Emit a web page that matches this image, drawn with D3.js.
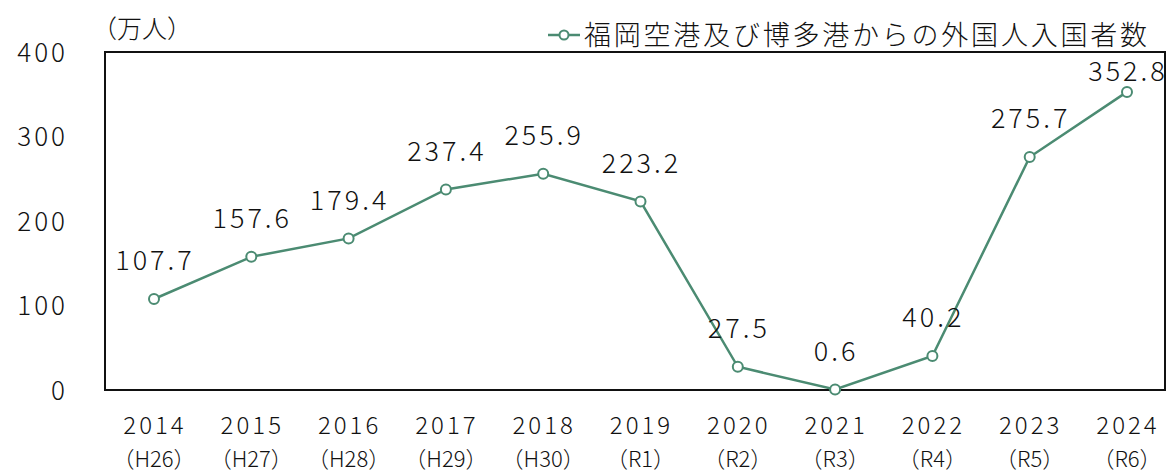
<!DOCTYPE html>
<html>
<head>
<meta charset="utf-8">
<script src="https://cdn.jsdelivr.net/npm/d3@7"></script>
<style>
  body { margin: 0; background: #fff; }
  text { font-family: "Noto Sans CJK JP", "Noto Sans", sans-serif; fill: #111; font-weight: 300; }
</style>
</head>
<body>
<div id="chart-area"></div>
<script>
// data
const years = ["2014", "2015", "2016", "2017", "2018", "2019", "2020", "2021", "2022", "2023", "2024"]
const eras = ["（H26）", "（H27）", "（H28）", "（H29）", "（H30）", "（R1）", "（R2）", "（R3）", "（R4）", "（R5）", "（R6）"]
const visitors = [107.7, 157.6, 179.4, 237.4, 255.9, 223.2, 27.5, 0.6, 40.2, 275.7, 352.8]
const yTicks = [0, 100, 200, 300, 400]
const seriesName = "福岡空港及び博多港からの外国人入国者数"
const unitLabel = "（万人）"

const W = 1175, H = 475
const PLOT = { LEFT: 105, RIGHT: 1165, TOP: 52, BOTTOM: 390 }
const GREEN = "#4b8b72"

const svg = d3.select("#chart-area").append("svg")
  .attr("width", W)
  .attr("height", H)

// scales
const x = d3.scalePoint()
  .domain(years)
  .range([154, 1127])
const y = d3.scaleLinear()
  .domain([0, 400])
  .range([PLOT.BOTTOM, PLOT.TOP])

// plot box
svg.append("rect")
  .attr("x", PLOT.LEFT)
  .attr("y", PLOT.TOP)
  .attr("width", PLOT.RIGHT - PLOT.LEFT)
  .attr("height", PLOT.BOTTOM - PLOT.TOP)
  .attr("fill", "none")
  .attr("stroke", "#111")
  .attr("stroke-width", 2)

// y axis labels
const yAxis = d3.axisLeft(y).tickValues(yTicks).tickSize(0).tickPadding(0)
const yg = svg.append("g")
  .attr("transform", `translate(68, 0)`)
  .call(yAxis)
yg.select(".domain").remove()
yg.selectAll("text")
  .attr("font-size", "26px")
  .attr("letter-spacing", "3px")
  .attr("fill", "#111")
  .attr("dy", "0.35em")

// x axis labels (two rows)
const xg = svg.append("g")
xg.selectAll(".year").data(years).enter().append("text")
  .attr("class", "year")
  .attr("x", d => x(d) + 1)
  .attr("y", 434)
  .attr("text-anchor", "middle")
  .attr("font-size", "24px")
  .attr("letter-spacing", "3px")
  .text(d => d)
xg.selectAll(".era").data(eras).enter().append("text")
  .attr("class", "era")
  .attr("x", (d, i) => x(years[i]))
  .attr("y", 467)
  .attr("text-anchor", "middle")
  .attr("font-size", "22px")
  .text(d => d)

// unit label
svg.append("text")
  .attr("x", 92)
  .attr("y", 38)
  .attr("font-size", "25px")
  .text(unitLabel)

// line
const line = d3.line()
  .x((d, i) => x(years[i]))
  .y(d => y(d))
svg.append("path")
  .datum(visitors)
  .attr("fill", "none")
  .attr("stroke", GREEN)
  .attr("stroke-width", 2.5)
  .attr("d", line)

svg.selectAll(".pt").data(visitors).enter().append("circle")
  .attr("class", "pt")
  .attr("cx", (d, i) => x(years[i]))
  .attr("cy", d => y(d))
  .attr("r", 5)
  .attr("fill", "#fff")
  .attr("stroke", GREEN)
  .attr("stroke-width", 2)

// value labels
svg.selectAll(".val").data(visitors).enter().append("text")
  .attr("class", "val")
  .attr("x", (d, i) => x(years[i]) + 1)
  .attr("y", d => Math.max(y(d) - 38, PLOT.TOP + 20))
  .attr("dy", "0.35em")
  .attr("text-anchor", "middle")
  .attr("font-size", "27px")
  .attr("letter-spacing", "3px")
  .text(d => d.toFixed(1))

// legend
const legend = svg.append("g").attr("transform", "translate(548, 35)")
legend.append("line")
  .attr("x1", 0).attr("x2", 32)
  .attr("stroke", GREEN)
  .attr("stroke-width", 2.5)
legend.append("circle")
  .attr("cx", 16).attr("r", 4.5)
  .attr("fill", "#fff")
  .attr("stroke", GREEN)
  .attr("stroke-width", 2)
legend.append("text")
  .attr("x", 36)
  .attr("dy", "0.36em")
  .attr("font-size", "27px")
  .attr("textLength", 563)
  .text(seriesName)
</script>
</body>
</html>
